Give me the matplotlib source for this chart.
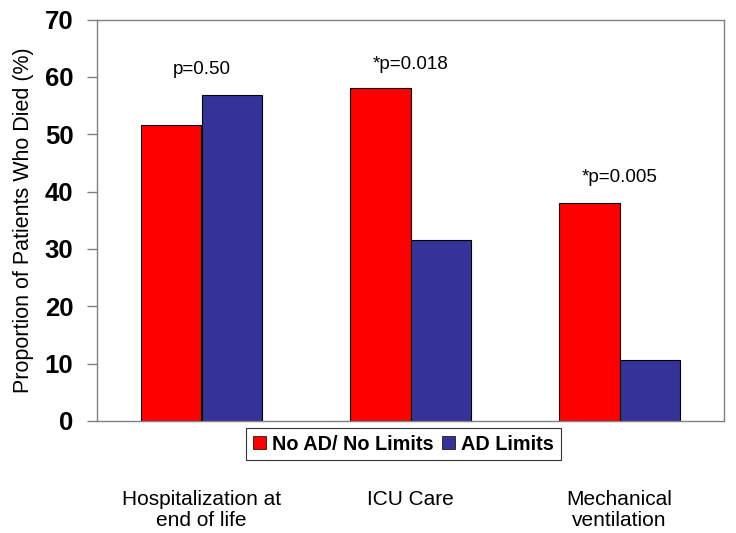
import numpy as np
import matplotlib
matplotlib.use("Agg")
import matplotlib.pyplot as plt
from matplotlib.patches import Patch

plt.rcParams['font.family'] = ['Liberation Sans', 'DejaVu Sans']

categories = ["Hospitalization at\nend of life", "ICU Care", "Mechanical\nventilation"]
no_limits = [51.6, 58.0, 38.0]
ad_limits = [56.9, 31.6, 10.6]
p_labels = ["p=0.50", "*p=0.018", "*p=0.005"]
series_names = ["No AD/ No Limits", "AD Limits"]
red = "#ff0000"
blue = "#333399"

fig = plt.figure(figsize=(7.36, 5.33), dpi=100)
ax = fig.add_axes([97 / 736, 1 - 421 / 533, 627 / 736, 401.5 / 533])

x = np.arange(len(categories)) + 0.5
w = 0.288
ax.bar(x - w / 2, no_limits, w, color=red, edgecolor="black", linewidth=0.8)
ax.bar(x + w / 2, ad_limits, w, color=blue, edgecolor="black", linewidth=0.8)

ax.set_xlim(0, 3)
ax.set_ylim(0, 70)
ax.set_yticks(range(0, 71, 10))
ax.tick_params(axis="y", labelsize=18.5, length=7, color="#808080", width=1, pad=10)
for lab in ax.get_yticklabels():
    lab.set_fontweight("bold")
ax.set_xticks(x)
ax.set_xticklabels(categories, fontsize=15, linespacing=1.1)
ax.tick_params(axis="x", length=0, pad=50)
for s in ax.spines.values():
    s.set_color("#808080")
    s.set_linewidth(1)

ax.set_ylabel("Proportion of Patients Who Died (%)", fontsize=15.5, labelpad=8)

p_heights = [60.5, 61.4, 41.7]
for xi, txt, h in zip(x, p_labels, p_heights):
    ax.text(xi, h, txt, ha="center", va="baseline", fontsize=13.5)

handles = [Patch(facecolor=red, edgecolor="black", linewidth=0.5),
           Patch(facecolor=blue, edgecolor="black", linewidth=0.5)]
leg = ax.legend(handles, series_names, loc="upper center", bbox_to_anchor=(0.489, -0.018),
                ncol=2, frameon=True, fancybox=False, edgecolor="black",
                prop={"weight": "bold", "size": 14.3}, handlelength=0.65, handleheight=0.65,
                handletextpad=0.3, columnspacing=0.45, borderpad=0.33, borderaxespad=0)
leg.get_frame().set_linewidth(0.8)

fig.savefig("out.png", dpi=100)
